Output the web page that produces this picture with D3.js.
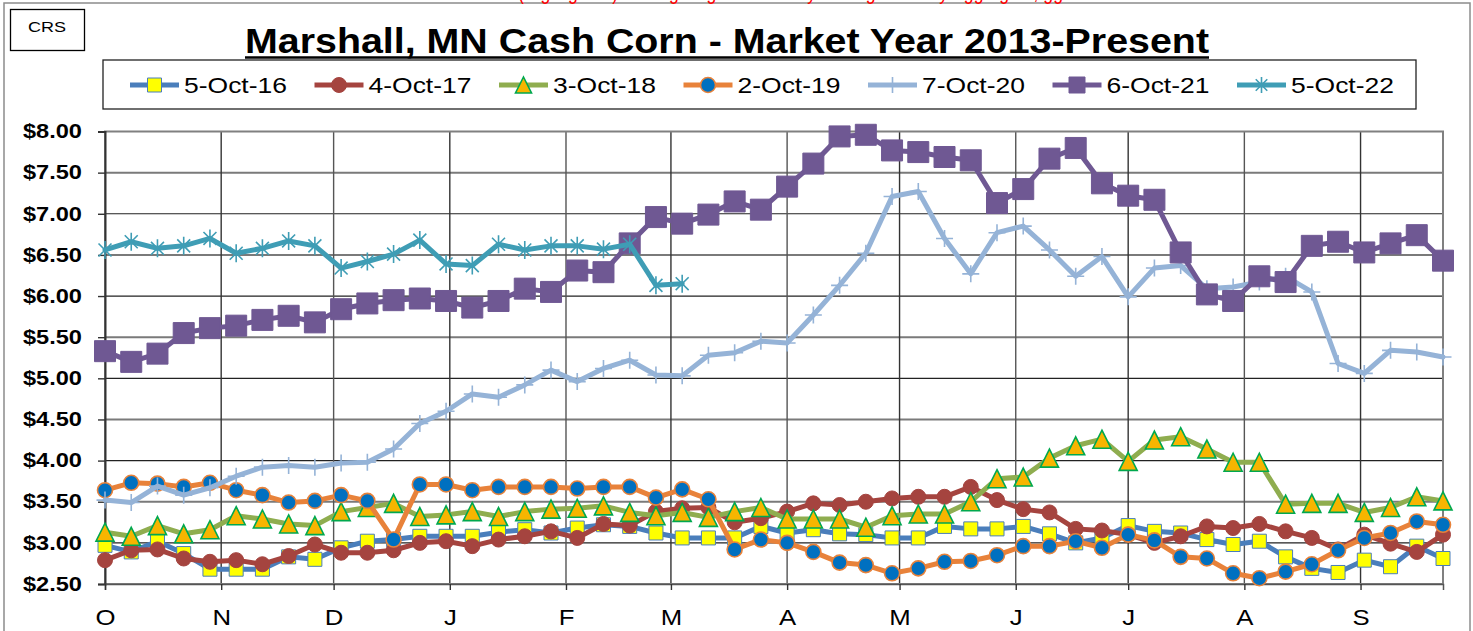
<!DOCTYPE html>
<html>
<head>
<meta charset="utf-8">
<script src="https://cdn.jsdelivr.net/npm/d3@7"></script>
<style>
    body { margin: 0; background: #fff; }
    svg { display: block; font-family: "Liberation Sans", Arial, sans-serif; }
</style>
</head>
<body>
<script>
(function(){
//series names as shown in the legend (first bid date of each market year)
var seriesNames = ["5-Oct-16", "4-Oct-17", "3-Oct-18", "2-Oct-19", "7-Oct-20", "6-Oct-21", "5-Oct-22"];

//weekly cash corn bids, $/bu
var price16 = [2.97,2.89,3.02,2.87,2.68,2.68,2.68,2.83,2.80,2.94, 3.02,3.04,3.08,3.08,3.08,3.13,3.16,3.12,3.18,3.22,
    3.20,3.12,3.06,3.06,3.06,3.20,3.12,3.16,3.11,3.10, 3.06,3.06,3.20,3.17,3.17,3.20,3.11,3.00,3.06,3.21,
    3.14,3.12,3.04,2.98,3.02,2.83,2.69,2.64,2.79,2.71, 2.96,2.81];
var price17 = [2.79,2.91,2.92,2.81,2.77,2.79,2.74,2.84,2.98,2.88, 2.88,2.91,3.00,3.02,2.96,3.04,3.08,3.14,3.06,3.23,
    3.21,3.38,3.42,3.43,3.25,3.30,3.38,3.48,3.46,3.50, 3.54,3.56,3.56,3.68,3.52,3.41,3.37,3.17,3.15,3.10,
    3.00,3.08,3.20,3.18,3.23,3.14,3.06,2.92,3.10,2.99, 2.89,3.10];
var price18 = [3.13,3.08,3.21,3.11,3.16,3.33,3.29,3.23,3.21,3.38, 3.43,3.48,3.32,3.34,3.38,3.32,3.38,3.41,3.42,3.45,
    3.37,3.33,3.37,3.31,3.38,3.43,3.29,3.29,3.29,3.19, 3.33,3.35,3.35,3.50,3.78,3.80,4.03,4.18,4.26,3.99,
    4.25,4.29,4.14,3.98,3.98,3.47,3.48,3.48,3.37,3.43, 3.56,3.51];
var price19 = [3.64,3.73,3.72,3.68,3.73,3.64,3.58,3.49,3.51,3.58, 3.51,3.04,3.71,3.71,3.64,3.68,3.68,3.68,3.66,3.68,
    3.68,3.55,3.65,3.53,2.92,3.04,3.00,2.89,2.76,2.73, 2.63,2.69,2.77,2.78,2.85,2.96,2.96,3.02,2.94,3.10,
    3.03,2.83,2.81,2.63,2.57,2.65,2.74,2.91,3.06,3.12, 3.26,3.22];
var price20 = [3.52,3.49,3.69,3.58,3.67,3.81,3.92,3.94,3.92,3.97, 3.98,4.14,4.45,4.60,4.81,4.77,4.92,5.10,4.96,5.12,
    5.22,5.04,5.03,5.28,5.31,5.45,5.43,5.77,6.13,6.52, 7.21,7.27,6.70,6.27,6.77,6.85,6.56,6.24,6.48,5.99,
    6.34,6.37,6.09,6.11,6.17,6.24,6.05,5.18,5.06,5.34, 5.32,5.26];
var price21 = [5.33,5.20,5.30,5.55,5.61,5.64,5.71,5.76,5.68,5.84, 5.91,5.95,5.97,5.94,5.86,5.94,6.09,6.05,6.31,6.29,
    6.64,6.96,6.88,6.99,7.15,7.05,7.33,7.61,7.94,7.96, 7.77,7.75,7.69,7.65,7.13,7.30,7.67,7.80,7.37,7.22,
    7.17,6.53,6.02,5.94,6.24,6.17,6.61,6.66,6.53,6.64, 6.74,6.43];
var price22 = [6.56,6.66,6.58,6.61,6.70,6.52,6.58,6.67,6.61,6.34, 6.42,6.51,6.68,6.39,6.37,6.63,6.56,6.61,6.61,6.57,
    6.63,6.13,6.15];

//axis labels
var monthLabels = ["O","N","D","J","F","M","A","M","J","J","A","S"];
var priceTicks = [2.5,3,3.5,4,4.5,5,5.5,6,6.5,7,7.5,8];

var allPrices = [price16, price17, price18, price19, price20, price21, price22];

//look of each series (same order as the names)
var seriesStyles = [
    {line: "#4A7EBB", marker: "square", size: 14, fill: "#FFFF00", stroke: "#4A7EBB", sw: 1},
    {line: "#A5443F", marker: "circle", size: 15, fill: "#A5443F", stroke: "#A5443F", sw: 1},
    {line: "#8FAD4F", marker: "triangle", size: 18, fill: "#F7B500", stroke: "#00A84F", sw: 1.6},
    {line: "#E8823A", marker: "circle", size: 15, fill: "#0070C0", stroke: "#E8823A", sw: 1.6},
    {line: "#95B3D7", marker: "plus", size: 17, fill: "none", stroke: "#95B3D7", sw: 1.6},
    {line: "#6F5893", marker: "square", size: 21, fill: "#6F5893", stroke: "#6F5893", sw: 1},
    {line: "#3F9DB5", marker: "star", size: 18, fill: "none", stroke: "#3F9DB5", sw: 1.6}
];

window.onload = setChart();

//path for one marker, centred on 0,0
function markerPath(type, s){
    var h = s / 2;
    if (type == "square") return "M" + (-h) + "," + (-h) + "h" + s + "v" + s + "h" + (-s) + "Z";
    if (type == "circle") return "M" + (-h) + ",0a" + h + "," + h + " 0 1,0 " + s + ",0a" + h + "," + h + " 0 1,0 " + (-s) + ",0Z";
    if (type == "triangle") return "M0," + (-h) + "L" + h + "," + h + "L" + (-h) + "," + h + "Z";
    if (type == "plus") return "M" + (-h) + ",0H" + h + "M0," + (-h) + "V" + h;
    //asterisk
    var d = h * 0.72;
    return "M" + (-d) + "," + (-d) + "L" + d + "," + d + "M" + (-d) + "," + d + "L" + d + "," + (-d) + "M0," + (-h) + "V" + h;
};

function setChart(){
    var width = 1473,
        height = 631,
        left = 105,
        right = 1443,
        top = 131.5,
        bottom = 584;

    var svg = d3.select("body")
        .append("svg")
        .attr("width", width)
        .attr("height", height);

    //outer chart frame
    svg.append("rect")
        .attr("x", 4).attr("y", 3)
        .attr("width", 1466).attr("height", 660)
        .attr("fill", "#fff")
        .attr("stroke", "#8c8c8c")
        .attr("stroke-width", 1.5);

    //red note cut off at the top of the page
    svg.append("text")
        .attr("x", 518).attr("y", -1)
        .attr("fill", "#ff0000")
        .style("font-size", "22px")
        .attr("textLength", 545)
        .attr("lengthAdjust", "spacingAndGlyphs")
        .text("(Highlighted) - Using Regional Weekly Average Bids by Aggregate, gg");

    //CRS box
    svg.append("rect")
        .attr("x", 10.5).attr("y", 9.5)
        .attr("width", 74).attr("height", 41)
        .attr("fill", "#fff")
        .attr("stroke", "#000")
        .attr("stroke-width", 1.3);
    svg.append("text")
        .attr("x", 47).attr("y", 32)
        .attr("text-anchor", "middle")
        .style("font-size", "15px")
        .attr("textLength", 38)
        .attr("lengthAdjust", "spacingAndGlyphs")
        .text("CRS");

    //title with underline
    svg.append("text")
        .attr("x", 245).attr("y", 53)
        .style("font-size", "35px")
        .style("font-weight", "bold")
        .attr("textLength", 964)
        .attr("lengthAdjust", "spacingAndGlyphs")
        .text("Marshall, MN Cash Corn - Market Year 2013-Present");
    svg.append("line")
        .attr("x1", 245).attr("x2", 1209)
        .attr("y1", 57.5).attr("y2", 57.5)
        .attr("stroke", "#000")
        .attr("stroke-width", 2.5);

    //scales
    var startDate = new Date(Date.UTC(2016, 9, 5));
    var weekDates = allPrices[0].map(function(v, i){ return d3.utcDay.offset(startDate, 7 * i); });

    var x = d3.scaleUtc()
        .domain([startDate, weekDates[weekDates.length - 1]])
        .range([left, right]);

    var y = d3.scaleLinear()
        .domain([priceTicks[0], priceTicks[priceTicks.length - 1]])
        .range([bottom, top]);

    var monthTicks = monthLabels.map(function(m, i){ return d3.utcMonth.offset(startDate, i); });

    //gridlines
    var grid = svg.append("g").attr("class", "grid");
    grid.selectAll(".hgrid")
        .data(priceTicks)
        .enter()
        .append("line")
        .attr("x1", left).attr("x2", right)
        .attr("y1", function(d){ return y(d); })
        .attr("y2", function(d){ return y(d); })
        .attr("stroke", function(d, i){ return i % 2 ? "#222" : "#7a7a7a"; })
        .attr("stroke-width", function(d, i){ return i % 2 ? 1.2 : 2; });
    grid.selectAll(".vgrid")
        .data(monthTicks)
        .enter()
        .append("line")
        .attr("x1", function(d){ return x(d); })
        .attr("x2", function(d){ return x(d); })
        .attr("y1", top).attr("y2", bottom)
        .attr("stroke", function(d, i){ return i % 2 ? "#333" : "#555"; })
        .attr("stroke-width", 1.4);

    //plot frame
    svg.append("rect")
        .attr("x", left).attr("y", top)
        .attr("width", right - left).attr("height", bottom - top)
        .attr("fill", "none")
        .attr("stroke", "#808080")
        .attr("stroke-width", 2);

    //y axis
    var yAxis = d3.axisLeft(y)
        .tickValues(priceTicks)
        .tickSize(7)
        .tickFormat(function(d){ return "$" + d.toFixed(2); });
    var yg = svg.append("g")
        .attr("transform", "translate(" + left + ",0)")
        .call(yAxis);
    yg.select(".domain").attr("stroke", "#333").attr("stroke-width", 2);
    yg.selectAll(".tick line").attr("stroke", "#333").attr("stroke-width", 1.4);
    yg.selectAll("text")
        .attr("x", -23)
        .attr("fill", "#000")
        .style("font-size", "19.5px")
        .style("font-weight", "bold")
        .style("font-family", "'Liberation Sans', Arial, sans-serif")
        .attr("textLength", 59)
        .attr("lengthAdjust", "spacingAndGlyphs");

    //x axis with month initials
    var xAxis = d3.axisBottom(x)
        .tickValues(monthTicks)
        .tickSize(6)
        .tickFormat(function(d, i){ return monthLabels[i]; });
    var xg = svg.append("g")
        .attr("transform", "translate(0," + bottom + ")")
        .call(xAxis);
    xg.select(".domain").attr("stroke", "#555").attr("stroke-width", 1.5);
    xg.selectAll(".tick line").attr("stroke", "#333").attr("stroke-width", 1.4);
    xg.selectAll("text")
        .attr("y", 41)
        .attr("dy", 0)
        .attr("fill", "#000")
        .attr("transform", "scale(1.12,1)")
        .style("font-size", "23px")
        .style("font-family", "'Liberation Sans', Arial, sans-serif");

    //series lines and markers
    var line = d3.line()
        .x(function(d, i){ return x(weekDates[i]); })
        .y(function(d){ return y(d); });

    allPrices.forEach(function(prices, k){
        var st = seriesStyles[k];
        var g = svg.append("g").attr("class", "series s" + k);
        g.append("path")
            .datum(prices)
            .attr("d", line)
            .attr("fill", "none")
            .attr("stroke", st.line)
            .attr("stroke-width", 5)
            .attr("stroke-linejoin", "round")
            .attr("stroke-linecap", "round");
        g.selectAll(".marker")
            .data(prices)
            .enter()
            .append("path")
            .attr("class", "marker")
            .attr("transform", function(d, i){ return "translate(" + x(weekDates[i]) + "," + y(d) + ")"; })
            .attr("d", markerPath(st.marker, st.size))
            .attr("fill", st.fill)
            .attr("stroke", st.stroke)
            .attr("stroke-width", st.sw);
    });

    //legend
    var legend = svg.append("g").attr("class", "legend");
    legend.append("rect")
        .attr("x", 103).attr("y", 60)
        .attr("width", 1313).attr("height", 49)
        .attr("fill", "#fff")
        .attr("stroke", "#222")
        .attr("stroke-width", 1.3);

    var items = legend.selectAll(".item")
        .data(seriesNames)
        .enter()
        .append("g")
        .attr("class", "item")
        .attr("transform", function(d, i){ return "translate(" + (130 + i * 184.5) + ",85)"; });
    items.append("line")
        .attr("x1", 0).attr("x2", 49)
        .attr("stroke", function(d, i){ return seriesStyles[i].line; })
        .attr("stroke-width", 5);
    items.append("path")
        .attr("transform", "translate(24.5,0)")
        .attr("d", function(d, i){ return markerPath(seriesStyles[i].marker, Math.min(seriesStyles[i].size, 16)); })
        .attr("fill", function(d, i){ return seriesStyles[i].fill; })
        .attr("stroke", function(d, i){ return seriesStyles[i].stroke; })
        .attr("stroke-width", function(d, i){ return seriesStyles[i].sw; });
    items.append("text")
        .attr("x", 54).attr("y", 8)
        .style("font-size", "22px")
        .attr("textLength", 103)
        .attr("lengthAdjust", "spacingAndGlyphs")
        .text(function(d){ return d; });
};

})();
</script>
</body>
</html>
